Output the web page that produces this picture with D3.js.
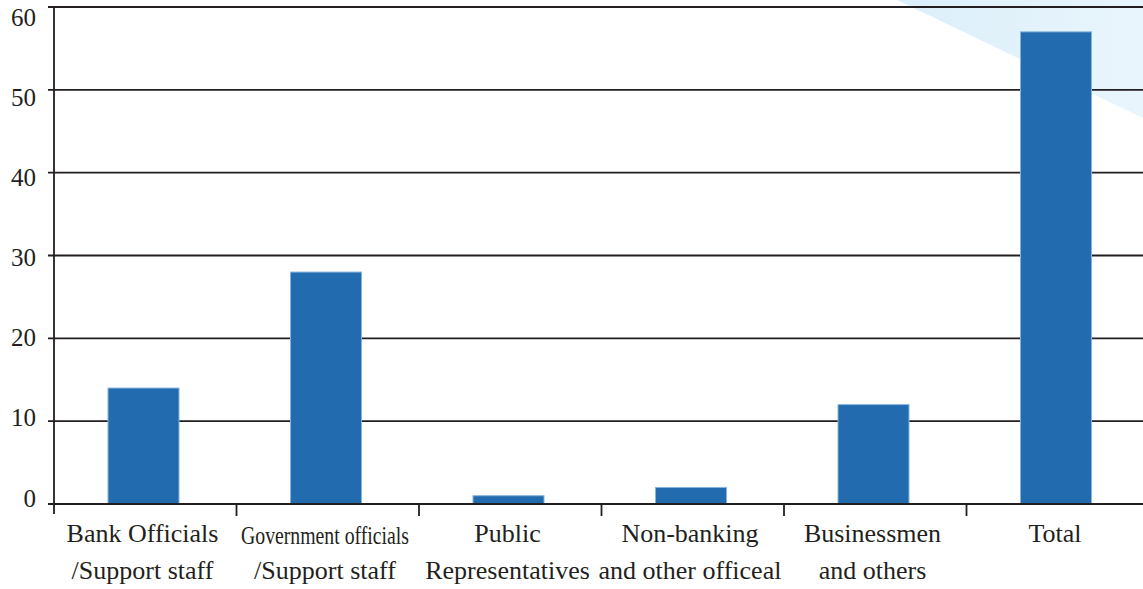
<!DOCTYPE html>
<html>
<head>
<meta charset="utf-8">
<script src="https://cdn.jsdelivr.net/npm/d3@7"></script>
<style>
  html, body { margin: 0; padding: 0; background: #fff; }
  svg { display: block; }
  text { font-family: "Liberation Serif", "Times New Roman", serif; fill: #231f20; }
</style>
</head>
<body>
<svg id="chart" width="1143" height="589"></svg>
<script>
// Categories (two-line labels) and their values
const categories = [
  "Bank Officials", "Government officials", "Public", "Non-banking", "Businessmen", "Total"
];
const labelLine1 = ["Bank Officials", "Government officials", "Public", "Non-banking", "Businessmen", "Total"];
const labelLine2 = ["/Support staff", "/Support staff", "Representatives", "and other officeal", "and others", ""];
const values = [14, 28, 1, 2, 12, 57];
const yTicks = [0, 10, 20, 30, 40, 50, 60];

const W = 1143, H = 589;
const margin = { left: 54, top: 7, bottom: 85 };
const svg = d3.select("#chart");

// Soft blue corner wash in the top right
const defs = svg.append("defs");
const grad = defs.append("linearGradient").attr("id", "wash").attr("x1", "0").attr("y1", "0").attr("x2", "1").attr("y2", "0");
grad.append("stop").attr("offset", "0").attr("stop-color", "#dbeffa");
grad.append("stop").attr("offset", "1").attr("stop-color", "#e9f5fc");
svg.append("polygon")
  .attr("points", "897,0 1143,0 1143,118")
  .attr("fill", "url(#wash)");

const x = d3.scaleBand()
  .domain(categories)
  .range([margin.left, margin.left + 182.5 * categories.length])
  .padding(0);

const y = d3.scaleLinear()
  .domain([0, 60])
  .range([H - margin.bottom, margin.top]);

// Tick labels sit on a slightly tighter spacing than the gridlines
const yLabel = d3.scaleLinear().domain([0, 60]).range([498, 17]);

// Gridlines with short ticks to the left of the axis
svg.append("g")
  .selectAll("line")
  .data(yTicks.filter(d => d > 0))
  .join("line")
  .attr("x1", margin.left - 6)
  .attr("x2", W)
  .attr("y1", d => y(d))
  .attr("y2", d => y(d))
  .attr("stroke", "#231f20")
  .attr("stroke-width", d => d === 60 ? 2.2 : 1.8);

// Y tick labels
svg.append("g")
  .selectAll("text")
  .data(yTicks)
  .join("text")
  .attr("x", 36)
  .attr("y", d => yLabel(d))
  .attr("dy", "0.34em")
  .attr("text-anchor", "end")
  .attr("font-size", 25)
  .text(d => d);

// Bars
const barW = 71;
const barCenter = i => x(categories[i]) + 89.5;
svg.append("g")
  .selectAll("rect")
  .data(values)
  .join("rect")
  .attr("x", (d, i) => barCenter(i) - barW / 2)
  .attr("y", d => y(d))
  .attr("width", barW)
  .attr("height", d => y(0) - y(d))
  .attr("fill", "#236baf")
  .attr("stroke", "#86b4e0")
  .attr("stroke-width", 1);

// Left axis line
svg.append("line")
  .attr("x1", margin.left).attr("x2", margin.left)
  .attr("y1", y(60)).attr("y2", y(0) + 10)
  .attr("stroke", "#231f20").attr("stroke-width", 1.8);

// Bottom axis with ticks between categories
svg.append("line")
  .attr("x1", margin.left - 6).attr("x2", W)
  .attr("y1", y(0)).attr("y2", y(0))
  .attr("stroke", "#231f20").attr("stroke-width", 2.2);

const bounds = categories.slice(1).map(c => x(c));
svg.append("g")
  .selectAll("line")
  .data(bounds)
  .join("line")
  .attr("x1", d => d).attr("x2", d => d)
  .attr("y1", y(0)).attr("y2", y(0) + 12)
  .attr("stroke", "#231f20").attr("stroke-width", 1.8);

// Category labels
const lab = svg.append("g");
categories.forEach((c, i) => {
  const cx = barCenter(i) - 1;
  const t1 = lab.append("text")
    .attr("x", cx).attr("y", 542)
    .attr("text-anchor", "middle")
    .attr("font-size", 26)
    .text(labelLine1[i]);
  if (labelLine1[i] === "Government officials") {
    // condensed heading: tall glyphs squeezed into the column width
    t1.attr("font-size", 26)
      .attr("y", 544)
      .attr("x", cx - 84)
      .attr("text-anchor", "start")
      .attr("textLength", 168)
      .attr("lengthAdjust", "spacingAndGlyphs");
  }
  if (labelLine2[i]) {
    lab.append("text")
      .attr("x", cx).attr("y", 579)
      .attr("text-anchor", "middle")
      .attr("font-size", 26)
      .text(labelLine2[i]);
  }
});
</script>
</body>
</html>
